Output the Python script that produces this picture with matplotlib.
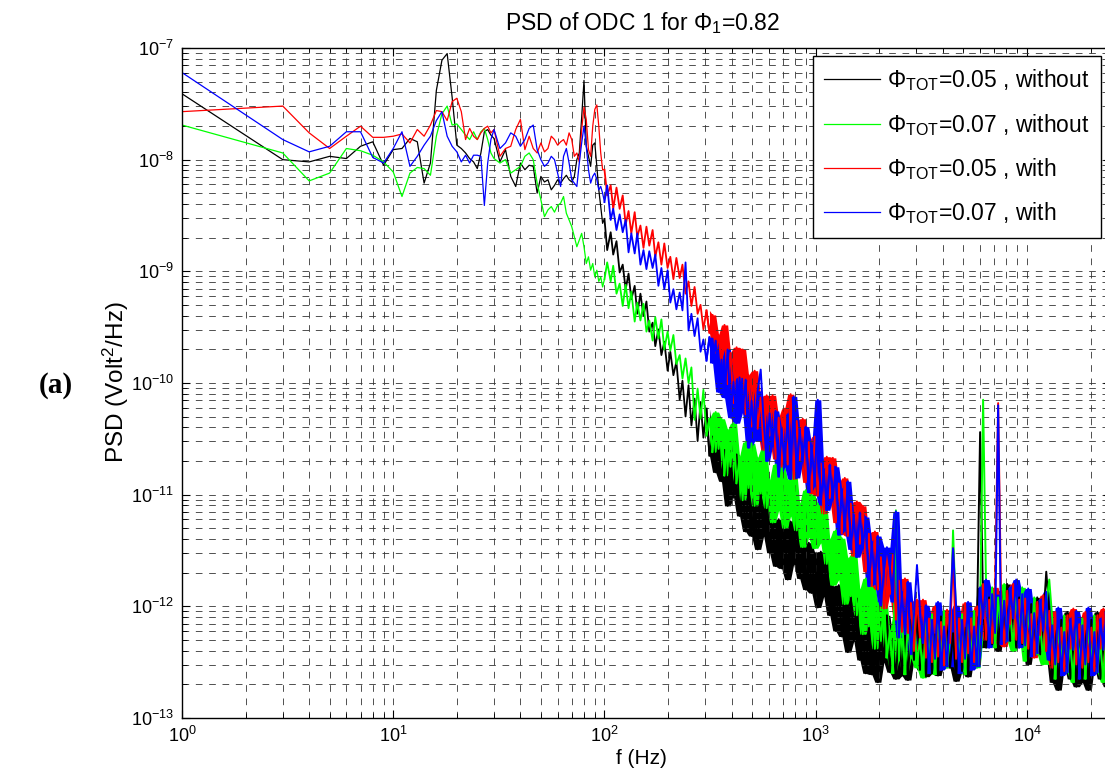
import numpy as np
import matplotlib
matplotlib.use('Agg')
import matplotlib.pyplot as plt

plt.rcParams['font.family'] = ['Liberation Sans', 'DejaVu Sans']
plt.rcParams['mathtext.fontset'] = 'custom'
plt.rcParams['mathtext.rm'] = 'Liberation Sans'
plt.rcParams['mathtext.sf'] = 'Liberation Sans'
plt.rcParams['mathtext.it'] = 'Liberation Sans:italic'
plt.rcParams['mathtext.bf'] = 'Liberation Sans:bold'

# frequency bins (Hz)
freq_low = [1, 3, 4, 5, 6, 7, 8, 9, 10, 11, 12, 13, 14, 15, 16, 17, 18, 19, 20,
            21, 22, 23, 24, 25, 26, 27, 28, 29, 30]
freq_mid = [32, 34, 36, 38, 40, 42, 44, 46, 48, 50, 52, 54, 56, 58, 60, 62, 64,
            66, 68, 70, 72, 74, 76, 78, 80, 82, 84, 86, 88, 90, 92, 94, 96, 98]
freq_high = [100, 103, 107, 110, 114, 118, 122, 126, 130, 134,
             139, 143, 148, 153, 158, 163, 169, 174, 180, 186,
             192, 199, 205, 212, 219, 227, 234, 242, 250, 258,
             267, 276, 285, 294, 304, 314, 325, 336, 347, 358,
             370, 383, 395, 408, 422, 436, 451, 466, 481, 497,
             514, 531, 549, 567, 586, 605, 625, 646, 668, 690,
             713, 737, 761, 787, 813, 840, 868, 897, 927, 958,
             990, 1023, 1057, 1092, 1128, 1166, 1205, 1245, 1286, 1329,
             1373, 1419, 1466, 1515, 1566, 1618, 1672, 1727, 1785, 1844,
             1906, 1969, 2035, 2103, 2173, 2245, 2320, 2397, 2477, 2560,
             2645, 2733, 2824, 2918, 3016, 3116, 3220, 3327, 3438, 3553,
             3671, 3793, 3920, 4050, 4185, 4325, 4469, 4618, 4771, 4930,
             5095, 5264, 5440, 5621, 5808, 6002, 6202, 6408, 6622, 6842,
             7070, 7306, 7549, 7801, 8061, 8329, 8607, 8894, 9190, 9496,
             9813, 10140, 10477, 10826, 11187, 11560, 11945, 12343, 12755, 13179,
             13618, 14072, 14541, 15025, 15526, 16043, 16578, 17130, 17701, 18291,
             18900, 19530, 20180, 20853, 21548, 22265, 23007, 23774, 24566]

# PSD values, log10(Volt^2/Hz)
# Phi_TOT=0.05, without
black_low = [-7.41, -8.00, -8.02, -7.97, -7.99, -7.88, -7.84, -8.05, -7.91, -7.90,
             -7.81, -7.84, -8.21, -8.03, -7.38, -7.11, -7.05, -7.44, -7.87, -7.90,
             -7.94, -7.99, -8.02, -8.08, -7.94, -7.75, -7.73, -7.78, -7.81]
black_mid = [-8.02, -7.91, -8.15, -8.24, -8.03, -8.09, -8.05, -8.06, -8.30, -8.15,
             -8.20, -8.18, -8.27, -8.23, -8.18, -8.21, -8.17, -8.14, -8.18, -8.20,
             -8.15, -8.00, -7.94, -7.62, -7.29, -7.88, -7.97, -8.06, -7.87, -7.85,
             -8.06, -8.27, -8.42, -8.57]
black_high = [-8.53, -8.81, -8.65, -8.85, -8.73, -9.01, -8.94, -9.16, -9.02, -9.25,
              -9.13, -9.38, -9.20, -9.40, -9.27, -9.54, -9.46, -9.67, -9.52, -9.75,
              -9.63, -9.89, -9.72, -9.93, -9.81, -10.15, -9.98, -10.30, -10.02, -10.38,
              -10.14, -10.52, -10.17, -10.49, -10.23, -10.65, -10.48, -10.80, -10.52, -10.88,
              -10.60, -11.10, -10.61, -11.02, -10.64, -11.19, -10.93, -11.33, -10.92, -11.37,
              -11.01, -11.49, -10.98, -11.37, -10.98, -11.52, -11.25, -11.64, -11.22, -11.66,
              -11.29, -11.76, -11.24, -11.62, -11.22, -11.75, -11.47, -11.85, -11.43, -11.88,
              -11.52, -12.01, -11.51, -11.91, -11.53, -12.08, -11.82, -12.22, -11.81, -12.27,
              -11.92, -12.41, -11.91, -12.31, -11.93, -12.48, -12.21, -12.60, -12.17, -12.61,
              -12.23, -12.68, -12.14, -12.50, -12.08, -12.59, -12.29, -12.65, -12.20, -12.62,
              -12.21, -12.66, -12.12, -12.48, -12.06, -12.57, -12.27, -12.63, -12.18, -12.60,
              -12.25, -12.62, -12.09, -12.52, -12.10, -12.55, -12.24, -12.67, -12.15, -12.58,
              -12.19, -12.63, -12.15, -12.45, -12.09, -10.44, -12.01, -12.37, -11.92, -12.34,
              -11.95, -12.40, -11.86, -12.22, -11.80, -12.31, -12.01, -12.37, -11.92, -12.34,
              -12.07, -12.52, -11.98, -12.34, -11.92, -12.43, -12.13, -11.69, -12.04, -12.68,
              -12.22, -12.75, -12.12, -12.54, -12.05, -12.65, -12.29, -12.72, -12.19, -12.68,
              -12.22, -12.75, -12.12, -12.54, -12.05, -12.65, -12.29, -12.72, -12.19]

# Phi_TOT=0.07, without
green_low = [-7.69, -7.94, -8.19, -8.12, -7.90, -7.92, -7.96, -8.02, -8.11, -8.33,
             -8.12, -8.07, -8.08, -8.14, -7.79, -7.59, -7.52, -7.69, -7.68, -7.73,
             -7.78, -7.82, -7.75, -7.82, -7.75, -7.72, -7.82, -7.94, -7.99]
green_mid = [-8.03, -8.00, -8.12, -8.09, -8.06, -7.97, -7.94, -8.00, -8.21, -8.36,
             -8.51, -8.45, -8.42, -8.47, -8.41, -8.39, -8.33, -8.48, -8.54, -8.60,
             -8.69, -8.78, -8.72, -8.66, -8.78, -8.93, -8.87, -8.99, -8.93, -9.05,
             -8.99, -9.09, -9.05, -9.14]
green_high = [-9.07, -8.92, -9.09, -8.95, -9.20, -9.11, -9.31, -9.12, -9.33, -9.18,
              -9.45, -9.28, -9.44, -9.29, -9.54, -9.44, -9.62, -9.41, -9.60, -9.43,
              -9.70, -9.54, -9.71, -9.57, -9.83, -9.75, -9.96, -9.78, -10.00, -9.86,
              -10.33, -10.05, -10.32, -10.06, -10.47, -10.32, -10.62, -10.26, -10.59, -10.32,
              -10.83, -10.42, -10.75, -10.36, -10.90, -10.66, -11.05, -10.53, -10.94, -10.54,
              -11.10, -10.67, -10.99, -10.59, -11.12, -10.87, -11.25, -10.73, -11.14, -10.74,
              -11.30, -10.87, -11.19, -10.79, -11.32, -11.08, -11.47, -10.96, -11.38, -11.00,
              -11.48, -11.08, -11.43, -11.06, -11.62, -11.40, -11.81, -11.32, -11.76, -11.39,
              -11.98, -11.57, -11.91, -11.53, -12.08, -11.85, -12.25, -11.75, -12.18, -11.80,
              -12.38, -11.97, -12.31, -11.92, -12.46, -12.22, -12.60, -11.14, -12.48, -12.07,
              -12.61, -12.16, -12.46, -12.04, -12.55, -12.28, -12.64, -12.10, -12.49, -12.07,
              -12.61, -12.16, -12.46, -12.04, -12.55, -12.28, -11.32, -12.10, -12.49, -12.07,
              -12.61, -12.16, -12.46, -12.04, -12.55, -12.04, -10.15, -11.86, -12.25, -11.83,
              -12.37, -11.92, -12.22, -11.80, -12.31, -12.04, -12.40, -11.86, -12.25, -11.83,
              -12.49, -12.04, -12.34, -11.92, -12.43, -12.16, -12.52, -11.98, -11.76, -12.11,
              -12.65, -12.20, -12.50, -12.08, -12.59, -12.32, -12.68, -12.14, -12.53, -12.11,
              -12.65, -12.20, -12.50, -12.08, -12.59, -12.32, -12.68, -12.14, -12.53]

# Phi_TOT=0.05, with
red_low = [-7.57, -7.52, -7.76, -7.90, -7.79, -7.70, -7.80, -7.80, -7.79, -7.77,
           -7.85, -7.73, -7.79, -7.69, -7.56, -7.57, -7.65, -7.48, -7.45, -7.57,
           -7.82, -7.72, -7.79, -7.82, -7.76, -7.72, -7.70, -7.76, -7.73]
red_mid = [-7.97, -7.90, -7.88, -7.73, -7.64, -7.91, -7.79, -7.90, -7.94, -7.85,
           -7.93, -7.90, -7.79, -7.82, -7.87, -7.84, -7.82, -7.87, -7.76, -7.82,
           -7.97, -7.94, -8.02, -7.73, -7.53, -7.64, -7.91, -7.97, -7.70, -7.55,
           -7.51, -7.70, -7.94, -8.09]
red_high = [-8.09, -8.32, -8.23, -8.44, -8.25, -8.44, -8.32, -8.58, -8.46, -8.66,
            -8.47, -8.69, -8.59, -8.79, -8.60, -8.77, -8.63, -8.87, -8.74, -8.94,
            -8.75, -8.97, -8.87, -9.07, -8.88, -9.06, -8.94, -9.20, -9.09, -9.31,
            -9.14, -9.38, -9.30, -9.52, -9.35, -9.55, -9.39, -9.73, -9.57, -9.84,
            -9.48, -10.01, -9.73, -10.18, -9.68, -10.05, -9.70, -10.28, -9.93, -10.39,
            -9.89, -10.41, -10.13, -10.60, -10.11, -10.47, -10.11, -10.68, -10.31, -10.75,
            -10.23, -10.73, -10.10, -10.86, -10.34, -10.69, -10.32, -10.89, -10.53, -10.99,
            -10.48, -11.01, -10.72, -11.17, -10.66, -11.03, -10.67, -11.25, -10.90, -11.35,
            -10.85, -11.37, -11.08, -11.55, -11.06, -11.44, -11.10, -11.69, -11.35, -11.82,
            -11.33, -11.85, -11.56, -12.02, -11.52, -11.89, -11.54, -12.12, -11.77, -12.23,
            -11.75, -12.24, -11.97, -12.40, -11.94, -12.28, -11.94, -12.46, -12.11, -12.50,
            -12.00, -12.45, -12.14, -12.53, -12.03, -12.33, -11.48, -12.47, -12.11, -12.50,
            -11.97, -12.42, -12.11, -12.50, -12.00, -12.16, -11.80, -12.30, -11.94, -12.33,
            -11.83, -10.18, -11.97, -12.36, -11.86, -12.16, -11.80, -12.30, -11.94, -12.33,
            -11.93, -12.38, -12.07, -12.46, -11.96, -12.26, -11.90, -12.40, -12.04, -12.55,
            -12.05, -12.50, -12.19, -12.58, -12.08, -12.38, -12.02, -12.52, -12.16, -12.55,
            -12.05, -12.50, -12.19, -12.58, -12.08, -12.38, -12.02, -12.52, -12.16]

# Phi_TOT=0.07, with
blue_low = [-7.22, -7.82, -7.93, -7.88, -7.75, -7.75, -7.98, -8.03, -7.90, -7.75,
            -8.06, -7.97, -7.87, -7.79, -7.65, -7.57, -7.79, -7.88, -7.93, -8.02,
            -7.96, -8.03, -7.96, -7.96, -7.97, -8.41, -8.03, -7.82, -7.73]
blue_mid = [-7.90, -7.85, -7.76, -7.79, -7.88, -7.82, -7.72, -7.69, -7.91, -8.00,
            -8.06, -8.03, -7.97, -8.00, -8.12, -8.24, -7.97, -7.90, -8.03, -8.18,
            -8.21, -8.24, -8.03, -7.85, -7.70, -7.88, -8.09, -8.21, -8.15, -8.12,
            -8.18, -8.27, -8.24, -8.30]
blue_high = [-8.38, -8.23, -8.54, -8.44, -8.63, -8.49, -8.65, -8.54, -8.83, -8.66,
             -8.84, -8.66, -8.94, -8.81, -8.98, -8.82, -8.97, -8.85, -9.13, -8.97,
             -9.16, -8.99, -9.28, -9.16, -9.34, -9.19, -9.35, -8.92, -9.53, -9.38,
             -9.58, -9.42, -9.72, -9.61, -9.80, -9.59, -9.82, -9.62, -10.08, -9.79,
             -10.13, -9.70, -10.31, -9.99, -10.36, -9.95, -10.26, -9.97, -10.58, -10.16,
             -10.52, -10.07, -9.88, -10.34, -10.70, -10.27, -10.56, -10.25, -10.84, -10.41,
             -10.75, -10.28, -10.86, -10.12, -10.85, -10.41, -10.70, -10.39, -10.98, -10.56,
             -10.92, -10.15, -11.09, -10.77, -11.14, -10.73, -11.04, -10.75, -11.36, -10.95,
             -11.32, -10.88, -11.49, -11.18, -11.56, -11.16, -11.48, -11.20, -11.82, -11.42,
             -11.80, -11.37, -11.99, -11.68, -11.47, -11.65, -11.96, -11.15, -12.28, -11.87,
             -12.25, -11.78, -12.43, -12.08, -11.63, -12.03, -12.33, -11.99, -12.60, -12.12,
             -12.47, -11.96, -12.57, -12.18, -12.54, -12.06, -11.48, -11.99, -12.60, -12.12,
             -12.47, -11.96, -12.57, -12.18, -12.54, -11.83, -12.11, -11.76, -12.37, -11.89,
             -12.24, -10.20, -12.34, -11.95, -12.31, -11.83, -12.11, -11.76, -12.37, -11.89,
             -12.35, -11.84, -12.45, -12.06, -12.42, -11.94, -12.22, -11.87, -12.48, -12.17,
             -12.52, -12.01, -12.62, -12.23, -12.59, -12.11, -12.39, -12.04, -12.65, -12.17,
             -12.52, -12.01, -12.62, -12.23, -12.59, -12.11, -12.39, -12.04, -12.65]

labels = [r'$\Phi_{\rm TOT}$=0.05 , without', r'$\Phi_{\rm TOT}$=0.07 , without',
          r'$\Phi_{\rm TOT}$=0.05 , with', r'$\Phi_{\rm TOT}$=0.07 , with']
colors = ['black', '#00ff00', 'red', 'blue']

freq = np.array(freq_low + freq_mid + freq_high, dtype=float)
curves = [black_low + black_mid + black_high,
          green_low + green_mid + green_high,
          red_low + red_mid + red_high,
          blue_low + blue_mid + blue_high]


def spread(v):
    # vertical spread of the dense trace over 3 neighbouring bins;
    # single-bin spikes are left to the line itself
    w = np.array(v, dtype=float)
    for i in range(2, len(v) - 2):
        ref = max(v[i - 2], v[i + 2])
        if v[i] - ref > 0.5:
            w[i] = ref
    up = np.maximum(np.maximum(w[:-2], w[1:-1]), w[2:])
    lo = np.minimum(np.minimum(w[:-2], w[1:-1]), w[2:])
    return up, lo


fig = plt.figure(figsize=(11.05, 7.79), dpi=100)
ax = fig.add_axes([182 / 1105, 61 / 779, 929 / 1105, 670 / 779])

n1 = len(freq_low) + len(freq_mid)     # 100 Hz
n2 = n1 + freq_high.index(304)         # ~300 Hz, where the traces turn into a band
for vals, c, lab in zip(curves, colors, labels):
    assert len(vals) == len(freq)
    psd = 10 ** np.array(vals)
    up, lo = spread(vals[n2:])
    ax.fill_between(freq[n2 + 1:-1], 10 ** lo, 10 ** up, color=c, lw=0)
    ax.plot(freq[:n1 + 1], psd[:n1 + 1], color=c, lw=0.9, label=lab)
    ax.plot(freq[n1:n2 + 2], psd[n1:n2 + 2], color=c, lw=1.3)
    ax.plot(freq[n2:], psd[n2:], color=c, lw=1.4)

ax.set_xscale('log')
ax.set_yscale('log')
ax.set_xlim(1, 25000)
ax.set_ylim(1e-13, 1e-7)

ax.grid(True, which='both', color='0.2', lw=0.6, ls=(0, (8, 8)))
ax.tick_params(which='both', direction='in', top=True, right=True,
               labelsize=13, pad=6)
ax.tick_params(which='major', length=6)
ax.tick_params(which='minor', length=3.5)
for s in ax.spines.values():
    s.set_linewidth(1.0)

leg = ax.legend(loc='upper right', bbox_to_anchor=(1101 / 1105, 1 - 56 / 779),
                bbox_transform=fig.transFigure, fontsize=16.5, fancybox=False,
                framealpha=1, edgecolor='black', handlelength=2.45,
                labelspacing=0.8, borderpad=0.5, handletextpad=0.3,
                borderaxespad=0)
leg.get_frame().set_linewidth(1.0)
for h in leg.get_lines():
    h.set_linewidth(0.9)

fig.text(642 / 1105, 1 - 30 / 779, r'PSD of ODC 1 for $\Phi_1$=0.82',
         ha='center', va='baseline', fontsize=16.5)
fig.text(641 / 1105, 1 - 758 / 779, 'f (Hz)', ha='center', va='center',
         fontsize=15)
fig.text(116 / 1105, 1 - 382 / 779, r'PSD (Volt$^2$/Hz)', ha='center',
         va='center', rotation=90, fontsize=17.5)
fig.text(56 / 1105, 1 - 385 / 779, '(a)', ha='center', va='center',
         fontsize=21, fontweight='bold', family='Liberation Serif')

fig.savefig('out.png', dpi=100)
